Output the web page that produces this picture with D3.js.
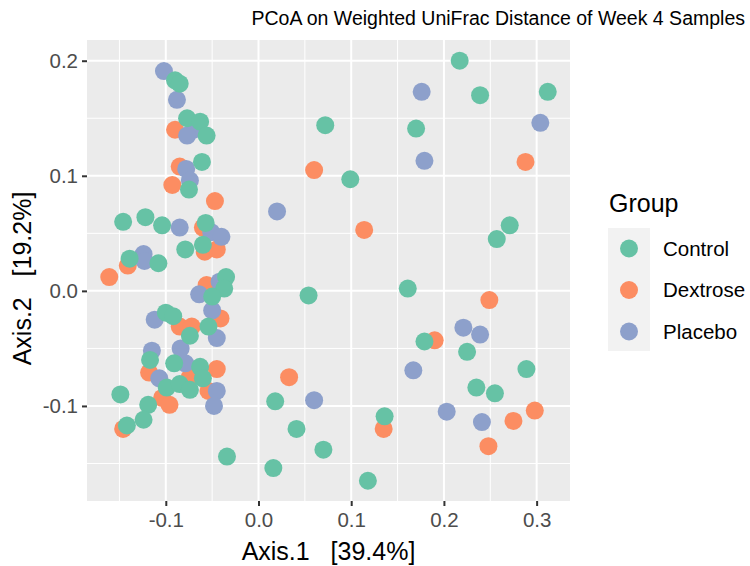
<!DOCTYPE html>
<html><head><meta charset="utf-8">
<script src="https://cdn.jsdelivr.net/npm/d3@7"></script>
<style>body{margin:0;background:#fff}svg text{font-family:"Liberation Sans",Arial,sans-serif}</style>
</head><body><svg id="c" width="750" height="566"></svg>
<script>
const groups = ["Control","Dextrose","Placebo"];
const groupColors = ["#66C2A5","#FC8D62","#8DA0CB"];
const xTicks = [-0.1,0.0,0.1,0.2,0.3];
const yTicks = [-0.1,0.0,0.1,0.2];
const xMinor = [-0.15,-0.05,0.05,0.15,0.25];
const yMinor = [-0.15,-0.05,0.05,0.15];
const controlPts = [[0.217,0.200],[0.239,0.170],[0.312,0.173],[0.170,0.141],[0.271,0.057],[0.257,0.045],[0.161,0.002],[0.179,-0.044],[0.225,-0.053],[0.289,-0.068],[0.235,-0.084],[0.255,-0.089],[0.072,0.144],[0.099,0.097],[0.054,-0.004],[0.018,-0.096],[0.136,-0.109],[0.041,-0.120],[0.070,-0.138],[0.016,-0.154],[0.118,-0.165],
[-0.090,0.183],[-0.085,0.180],[-0.077,0.150],[-0.063,0.147],[-0.056,0.135],[-0.061,0.112],[-0.075,0.088],[-0.146,0.060],[-0.122,0.064],[-0.104,0.057],[-0.057,0.059],[-0.079,0.036],[-0.060,0.040],[-0.139,0.028],[-0.108,0.024],[-0.035,0.012],[-0.037,0.002],[-0.050,-0.005],[-0.100,-0.019],[-0.092,-0.022],[-0.054,-0.031],[-0.074,-0.039],[-0.117,-0.060],[-0.091,-0.063],[-0.063,-0.066],[-0.060,-0.076],[-0.099,-0.084],[-0.085,-0.081],[-0.074,-0.086],[-0.149,-0.090],[-0.119,-0.099],[-0.124,-0.112],[-0.142,-0.117],[-0.034,-0.144]];
const dextrosePts = [[0.288,0.112],[0.249,-0.008],[0.190,-0.043],[0.298,-0.104],[0.275,-0.113],[0.248,-0.135],[0.060,0.105],[0.114,0.053],[0.033,-0.075],[0.135,-0.120],[-0.090,0.140],[-0.085,0.108],[-0.093,0.092],[-0.047,0.078],[-0.060,0.055],[-0.058,0.034],[-0.045,0.036],[-0.141,0.022],[-0.161,0.012],[-0.056,0.005],[-0.041,-0.024],[-0.085,-0.031],[-0.072,-0.031],[-0.045,-0.068],[-0.118,-0.071],[-0.074,-0.075],[-0.054,-0.087],[-0.104,-0.093],[-0.096,-0.099],[-0.146,-0.120]];
const placeboPts = [[0.176,0.173],[0.304,0.146],[0.179,0.113],[0.221,-0.032],[0.239,-0.038],[0.167,-0.069],[0.203,-0.105],[0.241,-0.114],[0.020,0.069],[0.060,-0.095],[-0.102,0.191],[-0.088,0.166],[-0.070,0.140],[-0.077,0.135],[-0.078,0.106],[-0.074,0.096],[-0.085,0.055],[-0.051,0.051],[-0.040,0.047],[-0.124,0.032],[-0.123,0.026],[-0.042,0.008],[-0.064,-0.003],[-0.050,-0.017],[-0.112,-0.025],[-0.045,-0.041],[-0.115,-0.052],[-0.084,-0.050],[-0.079,-0.063],[-0.107,-0.076],[-0.045,-0.087],[-0.048,-0.100]];

const svg = d3.select("#c");
const P = {l:87, r:570, t:40, b:501};
const x = d3.scaleLinear().domain([-0.185,0.336]).range([P.l,P.r]);
const y = d3.scaleLinear().domain([-0.1826,0.218]).range([P.b,P.t]);
const color = d3.scaleOrdinal().domain(groups).range(groupColors);

svg.append("rect").attr("x",P.l).attr("y",P.t).attr("width",P.r-P.l).attr("height",P.b-P.t).attr("fill","#EBEBEB");
const g = svg.append("g");
g.selectAll(".vx").data(xMinor).join("line").attr("x1",d=>x(d)).attr("x2",d=>x(d)).attr("y1",P.t).attr("y2",P.b).attr("stroke","#fff").attr("stroke-width",1);
g.selectAll(".hy").data(yMinor).join("line").attr("y1",d=>y(d)).attr("y2",d=>y(d)).attr("x1",P.l).attr("x2",P.r).attr("stroke","#fff").attr("stroke-width",1);
g.selectAll(".Vx").data(xTicks).join("line").attr("x1",d=>x(d)).attr("x2",d=>x(d)).attr("y1",P.t).attr("y2",P.b).attr("stroke","#fff").attr("stroke-width",2);
g.selectAll(".Hy").data(yTicks).join("line").attr("y1",d=>y(d)).attr("y2",d=>y(d)).attr("x1",P.l).attr("x2",P.r).attr("stroke","#fff").attr("stroke-width",2);

const fmt = d => d3.format(".1f")(d).replace("−","-");
const xa = svg.append("g").attr("transform",`translate(0,${P.b})`).call(d3.axisBottom(x).tickValues(xTicks).tickFormat(fmt).tickSize(5).tickPadding(6));
const ya = svg.append("g").attr("transform",`translate(${P.l},0)`).call(d3.axisLeft(y).tickValues(yTicks).tickFormat(fmt).tickSize(5).tickPadding(4));
[xa,ya].forEach(a=>{a.select(".domain").remove();a.selectAll(".tick line").attr("stroke","#333").attr("stroke-width",2);
  a.selectAll("text").attr("fill","#4D4D4D").style("font-size","20.5px").style("font-family","Liberation Sans, Arial, sans-serif");});

const layers = [["Dextrose",dextrosePts],["Placebo",placeboPts],["Control",controlPts]];
layers.forEach(([name,pts])=>{
  svg.append("g").selectAll("circle").data(pts).join("circle")
    .attr("cx",d=>x(d[0])).attr("cy",d=>y(d[1])).attr("r",9).attr("fill",color(name));
});

svg.append("text").attr("x",745).attr("y",25).attr("text-anchor","end").style("font-size","19.5px").attr("fill","#000")
  .text("PCoA on Weighted UniFrac Distance of Week 4 Samples");
svg.append("text").attr("x",(P.l+P.r)/2).attr("y",560).attr("text-anchor","middle").style("font-size","25px").style("white-space","pre")
  .text("Axis.1   [39.4%]");
svg.append("text").attr("transform",`translate(31,${(P.t+P.b)/2 + 8}) rotate(-90)`).attr("text-anchor","middle").style("font-size","25px").style("white-space","pre")
  .text("Axis.2   [19.2%]");

const lg = svg.append("g");
lg.append("text").attr("x",609).attr("y",212).style("font-size","25px").text("Group");
lg.append("rect").attr("x",608).attr("y",228).attr("width",42).attr("height",123).attr("fill","#F2F2F2");
const keyY = d3.scalePoint().domain(groups).range([248.5,331.5]);
lg.selectAll("circle").data(groups).join("circle").attr("cx",629).attr("cy",d=>keyY(d)).attr("r",9).attr("fill",d=>color(d));
lg.selectAll(".lab").data(groups).join("text").attr("x",663).attr("y",d=>keyY(d)).attr("dy","0.36em").style("font-size","20.5px").text(d=>d);
</script></body></html>
